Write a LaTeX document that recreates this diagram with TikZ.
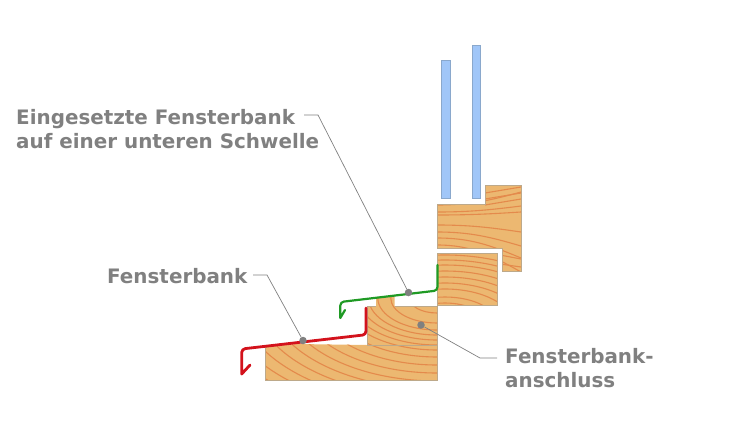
\documentclass[tikz,border=0pt]{standalone}
\usepackage{fontspec}
\setmainfont{DejaVu Sans}
\usetikzlibrary{positioning}
\definecolor{woodfill}{HTML}{ECB871}
\definecolor{woodedge}{HTML}{BDA98A}
\definecolor{grainline}{HTML}{E48A4C}
\definecolor{glassfill}{HTML}{A0C6F8}
\definecolor{glassedge}{HTML}{8AA8CC}
\definecolor{labelgray}{HTML}{808080}
\definecolor{redsheet}{HTML}{D3121C}
\definecolor{greensheet}{HTML}{1F9A24}
\tikzstyle{wood} = [fill=woodfill]
\tikzstyle{woodline} = [draw=woodedge, line width=0.7pt]
\tikzstyle{grain} = [draw=grainline, line width=1.1pt]
\tikzstyle{glass} = [fill=glassfill, draw=glassedge, line width=0.6pt]
\tikzstyle{sheet} = [draw, rounded corners=3.5pt, line cap=round, line join=round]
\tikzstyle{leader} = [draw=labelgray, line width=0.7pt]
\tikzstyle{dotnode} = [circle, fill=labelgray, inner sep=0pt, minimum size=7.5pt]
\tikzstyle{textnode} = [text=labelgray, font=\bfseries\fontsize{19.9}{24}\selectfont, align=left, inner sep=0pt]
\begin{document}
\begin{tikzpicture}[x=1pt, y=-1pt]
	\useasboundingbox (0,0) rectangle (744,431);
	% sill and its connection
	\fill [wood] (265.5,346.5) -- (297,344) -- (367,345) -- (367,306) -- (376,306) -- (376,298) -- (394.5,295) -- (394.5,306) -- (437.5,306) -- (437.5,380) -- (265.5,380) -- cycle;
	\begin{scope}
		\clip (265.5,346.5) -- (297,344) -- (367,345) -- (367,306) -- (376,306) -- (376,298) -- (394.5,295) -- (394.5,306) -- (437.5,306) -- (437.5,380) -- (265.5,380) -- cycle;
		\foreach \r in {7,15,25,32,37,42,47,52,59,67,75,83,91,99,107,115,123}
			\path [grain] (437,298) ellipse ({1.85*\r} and {\r});
	\end{scope}
	\path [woodline] (265.5,346.5) -- (265.5,380) -- (437.5,380) -- (437.5,306) -- (394.5,306);
	\path [woodline] (367,345) -- (437.5,345);
	\path [woodline] (367,345) -- (367,306) -- (376,306);
	% upper frame
	\fill [wood] (437,204) -- (485.5,204) -- (485.5,185) -- (521,185) -- (521,271) -- (502,271) -- (502,248.5) -- (437,248.5) -- cycle;
	\begin{scope}
		\clip (437,204) -- (485.5,204) -- (485.5,185) -- (521,185) -- (521,271) -- (502,271) -- (502,248.5) -- (437,248.5) -- cycle;
		\foreach \y in {205,212,215,225,232,238,245}
			\path [grain] (437,\y) .. controls (470,\y) and (490,{\y+0.35*(\y-218)}) .. (521,{\y+1.0*(\y-218)});
		\foreach \y in {187,193,199}
			\path [grain] (485,{\y+6}) -- (521,\y);
		\path [grain] (500,255) -- (521,259);
		\path [grain] (500,264) -- (521,267);
	\end{scope}
	\path [woodline] (437,204) -- (485.5,204) -- (485.5,185) -- (521,185) -- (521,271) -- (502,271) -- (502,248.5) -- (437,248.5) -- cycle;
	% lower frame
	\fill [wood] (437.5,253) rectangle (497.5,305.5);
	\begin{scope}
		\clip (437.5,253) rectangle (497.5,305.5);
		\foreach \r in {22,28,36,42,48,54,60,65,70}
			\path [grain] (445,325) ellipse ({1.9*\r} and {\r});
	\end{scope}
	\path [woodline] (437.5,253) rectangle (497.5,305.5);
	% glass panes
	\path [glass] (441.3,60) rectangle (449.8,198);
	\path [glass] (472.2,45) rectangle (480.3,198);
	% metal sheets
	\path [sheet, draw=greensheet, line width=2.2pt] (437.5,265) -- (437.5,290.5) -- (340.3,302) -- (340.3,313) [sharp corners] -- (340.3,318) -- (345,310);
	\path [sheet, draw=redsheet, line width=2.8pt] (366,308) -- (366,334.7) -- (241.7,349) -- (241.7,368) [sharp corners] -- (241.7,374) -- (250,365);
	% labels
	\node [textnode, anchor=base west] (einlabel) at (16,148) {Eingesetzte Fensterbank\\auf einer unteren Schwelle};
	\node [textnode, anchor=base west] (banklabel) at (107,283) {Fensterbank};
	\node [textnode, anchor=base west] (anschlabel) at (505,387) {Fensterbank-\\anschluss};
	\node [dotnode] (eindot) at (408.5,292.5) {};
	\node [dotnode] (bankdot) at (303,340.5) {};
	\node [dotnode] (anschdot) at (421,325) {};
	\coordinate (einstart) at (304,115);
	\coordinate (einkink) at (318,115);
	\coordinate (bankstart) at (253,275);
	\coordinate (bankkink) at (267,275);
	\coordinate (anschstart) at (497,358);
	\coordinate (anschkink) at (480,358);
	\path [leader] (einstart) -- (einkink) -- (eindot);
	\path [leader] (bankstart) -- (bankkink) -- (bankdot);
	\path [leader] (anschstart) -- (anschkink) -- (anschdot);
\end{tikzpicture}
\end{document}
